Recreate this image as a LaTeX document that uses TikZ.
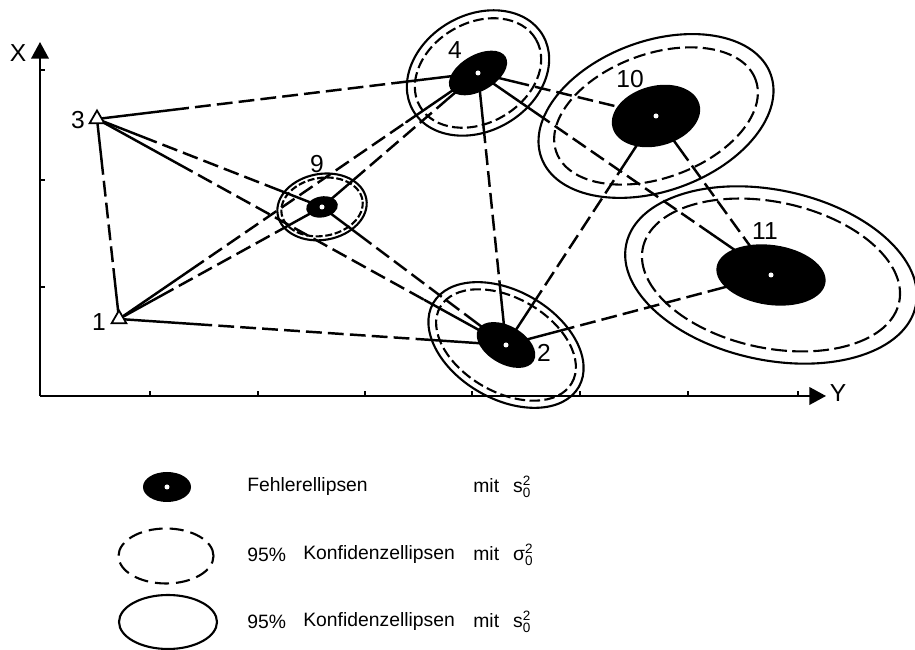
\documentclass[tikz,border=0pt]{standalone}
\usepackage{amsmath}
\usepackage{fontspec}
\setmainfont{Liberation Sans}
\usetikzlibrary{calc,shapes.geometric,arrows.meta}

\begin{document}
\begin{tikzpicture}[
                % Sichten
                sicht/.style={line width=1.4pt, line cap=round},
                sichtdash/.style={line width=1.4pt, dash pattern=on 9pt off 3.5pt},
                % Ellipsen
                fehler/.style={fill=black},
                konfs/.style={draw, line width=1.2pt},
                konfsigma/.style={draw, line width=1.2pt, dash pattern=on 7pt off 3pt},
                % Festpunkte und Beschriftung
                station/.style={regular polygon, regular polygon sides=3, draw, fill=white, line width=1pt, inner sep=0pt, minimum size=0.34cm},
                ptlabel/.style={font=\fontsize{14}{16}\selectfont, inner sep=0pt},
                legtext/.style={font=\fontsize{11}{13}\selectfont, anchor=west, inner sep=0pt},
                axis/.style={line width=1.2pt, -{Triangle[length=9.5pt,width=10pt]}}
            ]
                \useasboundingbox (0,0) rectangle (18.3,13);

                % --- ACHSEN ---
                \coordinate (o) at (0.8, 5.08);
                \coordinate (xend) at (0.8, 12.16);
                \coordinate (yend) at (16.52, 5.08);
                \draw[axis] (o) -- (xend);
                \draw[axis] (o) -- (yend);
                \foreach \y in {11.60, 9.40, 7.26} \draw[line width=0.9pt] (0.8,\y) -- (0.9,\y);
                \foreach \x in {3.00, 5.16, 7.30, 9.44, 11.60, 13.76, 15.96} \draw[line width=0.9pt] (\x,5.08) -- (\x,5.18);
                \node[ptlabel] (lx) at (0.36, 11.94) {X};
                \node[ptlabel] (ly) at (16.76, 5.14) {Y};

                % --- PUNKTE ---
                \coordinate (p3) at (1.94, 10.62);
                \coordinate (p1) at (2.38, 6.62);
                \coordinate (p9) at (6.44, 8.86);
                \coordinate (p4) at (9.56, 11.54);
                \coordinate (p10) at (13.12, 10.68);
                \coordinate (p2) at (10.12, 6.10);
                \coordinate (p11) at (15.42, 7.50);

                % --- SICHTEN ---
                \foreach \a/\b in {p3/p1, p3/p4, p3/p9, p3/p2, p1/p9, p1/p4, p1/p2, p9/p4, p9/p2,
                                   p4/p10, p4/p11, p4/p2, p10/p2, p10/p11, p2/p11} {
                    \draw[sichtdash] ($(\a)!0.2!(\b)$) -- ($(\a)!0.8!(\b)$);
                    \draw[sicht] (\a) -- ($(\a)!0.2!(\b)$) ($(\a)!0.8!(\b)$) -- (\b);
                }

                % --- KONFIDENZELLIPSEN ---
                \draw[konfs, rotate around={10:(p9)}] (p9) ellipse [x radius=0.90, y radius=0.66];
                \draw[konfsigma, dash pattern=on 4pt off 1.5pt, rotate around={10:(p9)}] (p9) ellipse [x radius=0.82, y radius=0.58];

                \draw[konfs, rotate around={30:(p4)}] (p4) ellipse [x radius=1.50, y radius=1.16];
                \draw[konfsigma, dash pattern=on 6pt off 2.5pt, rotate around={30:(p4)}] (p4) ellipse [x radius=1.34, y radius=1.00];

                \draw[konfs, rotate around={20:(p10)}] (p10) ellipse [x radius=2.44, y radius=1.50];
                \draw[konfsigma, rotate around={20:(p10)}] (p10) ellipse [x radius=2.12, y radius=1.24];

                \draw[konfs, rotate around={-30:(p2)}] (p2) ellipse [x radius=1.68, y radius=1.08];
                \draw[konfsigma, dash pattern=on 6pt off 2.5pt, rotate around={-30:(p2)}] (p2) ellipse [x radius=1.52, y radius=0.94];

                \draw[konfs, rotate around={-12:(p11)}] (p11) ellipse [x radius=2.96, y radius=1.70];
                \draw[konfsigma, dash pattern=on 9pt off 3pt, rotate around={-12:(p11)}] (p11) ellipse [x radius=2.62, y radius=1.46];

                % --- FEHLERELLIPSEN ---
                \fill[fehler, rotate around={10:(p9)}] (p9) ellipse [x radius=0.32, y radius=0.21];
                \fill[fehler, rotate around={30:(p4)}] (p4) ellipse [x radius=0.64, y radius=0.36];
                \fill[fehler, rotate around={15:(p10)}] (p10) ellipse [x radius=0.90, y radius=0.60];
                \fill[fehler, rotate around={-30:(p2)}] (p2) ellipse [x radius=0.64, y radius=0.38];
                \fill[fehler, rotate around={-8:(p11)}] (p11) ellipse [x radius=1.10, y radius=0.60];
                \foreach \p in {p9, p4, p10, p2, p11} \fill[white] (\p) circle (0.05);

                % Festpunkte
                \node[station] (s3) at (p3) {};
                \node[station] (s1) at (p1) {};

                % --- NUMMERN ---
                \node[ptlabel] (l3) at (1.56, 10.60) {3};
                \node[ptlabel] (l1) at (1.98, 6.56) {1};
                \node[ptlabel] (l9) at (6.34, 9.72) {9};
                \node[ptlabel] (l4) at (9.10, 12.00) {4};
                \node[ptlabel] (l10) at (12.60, 11.42) {10};
                \node[ptlabel] (l11) at (15.30, 8.38) {11};
                \node[ptlabel] (l2) at (10.88, 5.94) {2};

                % --- LEGENDE ---
                \fill[fehler] (3.34, 3.26) ellipse [x radius=0.48, y radius=0.30];
                \fill[white] (3.34, 3.26) circle (0.05);
                \draw[konfsigma, dash pattern=on 8pt off 4pt] (3.32, 1.88) ellipse [x radius=0.95, y radius=0.55];
                \draw[konfs] (3.36, 0.56) ellipse [x radius=0.98, y radius=0.54];

                \node[legtext] (t1) at (4.94, 3.26) {Fehlerellipsen};
                \node[legtext] (m1) at (9.46, 3.26) {mit\hspace{8pt}s$_{\text{0}}^{\text{2}}$};

                \node[legtext] (q2) at (4.94, 1.90) {95\%};
                \node[legtext] (t2) at (6.06, 1.90) {Konfidenzellipsen};
                \node[legtext] (m2) at (9.46, 1.90) {mit\hspace{8pt}σ$_{\text{0}}^{\text{2}}$};

                \node[legtext] (q3) at (4.94, 0.56) {95\%};
                \node[legtext] (t3) at (6.06, 0.56) {Konfidenzellipsen};
                \node[legtext] (m3) at (9.46, 0.56) {mit\hspace{8pt}s$_{\text{0}}^{\text{2}}$};

            \end{tikzpicture}
\end{document}
